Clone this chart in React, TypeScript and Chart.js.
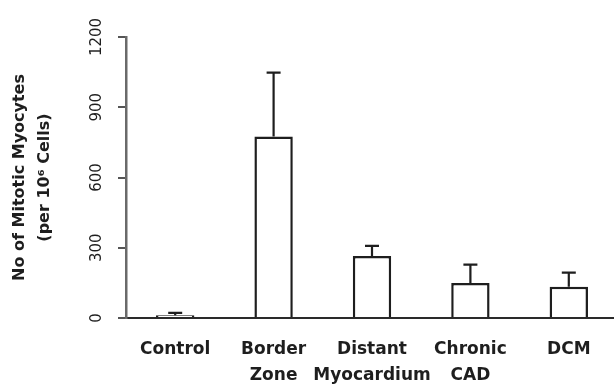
import React, { useEffect, useRef } from "react";
import { Chart, registerables } from "chart.js";

Chart.register(...registerables);

const categories: (string | string[])[] = [
  "Control",
  ["Border", "Zone"],
  ["Distant", "Myocardium"],
  ["Chronic", "CAD"],
  "DCM",
];
const meanValues = [12, 775, 265, 150, 133];
const errorValues = [10, 273, 43, 78, 61];
const yTicks = [0, 300, 600, 900, 1200];
const yTitle = ["No of Mitotic Myocytes", "(per 10\u2076 Cells)"];

const errorBarPlugin = {
  id: "errorBars",
  afterDatasetsDraw(chart: any) {
    const meta = chart.getDatasetMeta(0);
    const yScale = chart.scales.y;
    const ctx = chart.ctx;
    ctx.save();
    ctx.strokeStyle = "#1e1e1e";
    ctx.lineWidth = 2.2;
    meta.data.forEach((el: any, i: number) => {
      const x = el.x;
      const yBar = el.y;
      const yTop = yScale.getPixelForValue(meanValues[i] + errorValues[i]);
      ctx.beginPath();
      ctx.moveTo(x, yBar);
      ctx.lineTo(x, yTop);
      ctx.moveTo(x - 7, yTop);
      ctx.lineTo(x + 7, yTop);
      ctx.stroke();
    });
    ctx.restore();
  },
};

export default function App() {
  const ref = useRef<HTMLCanvasElement | null>(null);
  useEffect(() => {
    if (!ref.current) return;
    const chart = new Chart(ref.current, {
      type: "bar",
      data: {
        labels: categories,
        datasets: [
          {
            data: meanValues,
            backgroundColor: "#ffffff",
            borderColor: "#1e1e1e",
            borderWidth: 2.5,
            barPercentage: 0.39,
            categoryPercentage: 1,
          },
        ],
      },
      options: {
        animation: false,
        responsive: false,
        devicePixelRatio: 1,
        layout: { padding: { top: 37, left: 0, right: 0, bottom: 0 } },
        plugins: { legend: { display: false }, tooltip: { enabled: false } },
        scales: {
          x: {
            grid: { display: false, drawTicks: false },
            border: { display: true, color: "#2a2a2a", width: 2 },
            ticks: {
              color: "#1e1e1e",
              padding: 19,
              maxRotation: 0,
              minRotation: 0,
              autoSkip: false,
              font: { family: "DejaVu Sans", size: 17, weight: "bold", lineHeight: 1.53 },
            },
            afterFit(scale: any) {
              scale.height = 70;
            },
          },
          y: {
            min: 0,
            max: 1200,
            afterBuildTicks(scale: any) {
              scale.ticks = yTicks.map((v) => ({ value: v }));
            },
            grid: {
              drawOnChartArea: false,
              drawTicks: true,
              tickLength: 8,
              color: "#555555",
              lineWidth: 2,
            },
            border: { display: true, color: "#6a6a6a", width: 2.5 },
            ticks: {
              color: "#1e1e1e",
              padding: 2,
              minRotation: 90,
              maxRotation: 90,
              crossAlign: "center",
              callback: (v: any) => String(v),
              font: { family: "DejaVu Sans", size: 15 },
            },
            title: {
              display: true,
              text: yTitle,
              color: "#1e1e1e",
              padding: { top: 8, bottom: 0 },
              font: { family: "DejaVu Sans", size: 16, weight: "bold", lineHeight: 1.53 },
            },
            afterFit(scale: any) {
              scale.width = 126;
            },
          },
        },
      },
      plugins: [errorBarPlugin],
    });
    return () => chart.destroy();
  }, []);
  return (
    <div
      style={{
        position: "absolute",
        left: 0,
        top: 0,
        width: 614,
        height: 388,
        overflow: "hidden",
        background: "#ffffff",
      }}
    >
      <canvas ref={ref} width={618} height={388} style={{ display: "block" }} />
    </div>
  );
}
